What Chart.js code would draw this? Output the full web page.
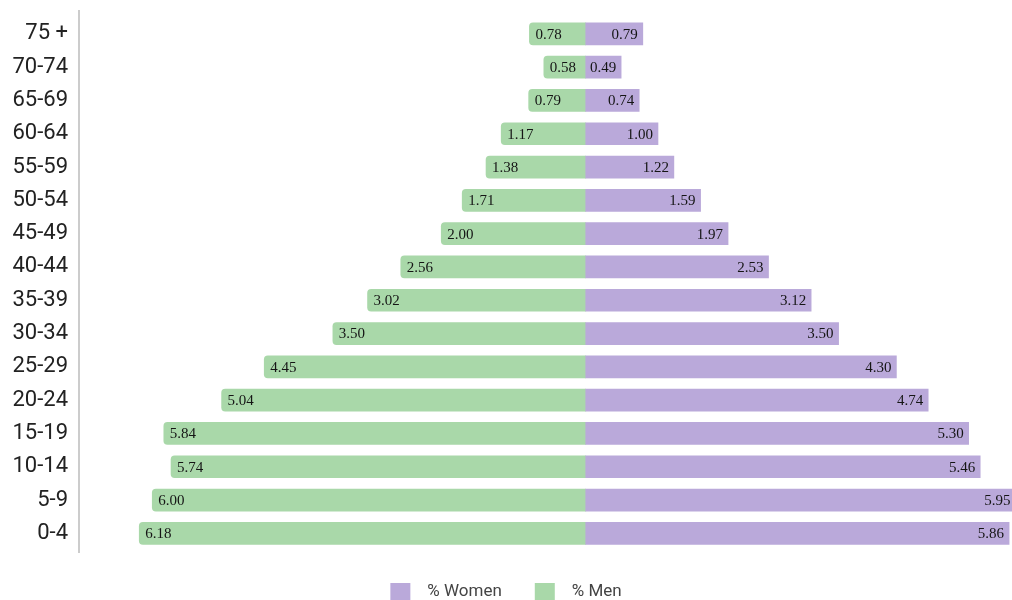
<!DOCTYPE html>
<html>
<head>
<meta charset="utf-8">
<script src="https://cdn.jsdelivr.net/npm/chart.js@4.4.1/dist/chart.umd.min.js"></script>
<style>
  html, body { margin: 0; padding: 0; background: #fff; }
  #wrap { width: 1012px; height: 600px; position: relative; }
</style>
</head>
<body>
<div id="wrap"><canvas id="pyramid"></canvas></div>
<script>
const ageGroups = ['75 +', '70-74', '65-69', '60-64', '55-59', '50-54', '45-49', '40-44',
    '35-39', '30-34', '25-29', '20-24', '15-19', '10-14', '5-9', '0-4'];
const womenPct = [0.79, 0.49, 0.74, 1.00, 1.22, 1.59, 1.97, 2.53, 3.12, 3.50, 4.30, 4.74, 5.30, 5.46, 5.95, 5.86];
const menPct = [0.78, 0.58, 0.79, 1.17, 1.38, 1.71, 2.00, 2.56, 3.02, 3.50, 4.45, 5.04, 5.84, 5.74, 6.00, 6.18];

// bar value labels drawn at the outer end of every bar
const barLabels = {
    id: 'barLabels',
    afterDatasetsDraw(chart) {
        const ctx = chart.ctx;
        ctx.save();
        ctx.font = '15px "Liberation Serif", serif';
        ctx.fillStyle = '#151515';
        ctx.textBaseline = 'middle';
        chart.data.datasets.forEach((ds, i) => {
            chart.getDatasetMeta(i).data.forEach((bar, j) => {
                const v = Math.abs(ds.data[j]).toFixed(2);
                if (ds.data[j] < 0) {
                    ctx.textAlign = 'left';
                    ctx.fillText(v, bar.x + 6, bar.y + 1);
                } else {
                    ctx.textAlign = 'right';
                    ctx.fillText(v, bar.x - 5, bar.y + 1);
                }
            });
        });
        ctx.restore();
    }
};

// light grey axis line left of the bars
const axisLine = {
    id: 'axisLine',
    beforeDatasetsDraw(chart) {
        const ctx = chart.ctx, a = chart.chartArea;
        ctx.save();
        ctx.strokeStyle = '#cccccc';
        ctx.lineWidth = 2;
        ctx.beginPath();
        ctx.moveTo(a.left - 1, 10);
        ctx.lineTo(a.left - 1, 553);
        ctx.stroke();
        ctx.restore();
    }
};

let chart;
window.addEventListener('load', () => {
    chart = new Chart(document.getElementById('pyramid'), {
        type: 'bar',
        data: {
            labels: ageGroups,
            datasets: [
                {
                    label: '% Women',
                    data: womenPct,
                    backgroundColor: '#baa9da',
                    barThickness: 22,
                    borderRadius: 0
                },
                {
                    label: '% Men',
                    data: menPct.map(v => -v),
                    backgroundColor: '#a9d8a9',
                    barThickness: 22,
                    borderRadius: 4
                }
            ]
        },
        options: {
            indexAxis: 'y',
            responsive: true,
            maintainAspectRatio: false,
            animation: false,
            layout: { padding: { top: 9, right: 0, left: 0, bottom: -10 } },
            scales: {
                x: {
                    stacked: true,
                    min: -7,
                    max: 5.9,
                    display: false
                },
                y: {
                    stacked: true,
                    grid: { display: false },
                    border: { display: false },
                    ticks: {
                        padding: 4,
                        color: '#222',
                        font: { family: 'Roboto', size: 22 }
                    },
                    afterFit(scale) { scale.width = 80; }
                }
            },
            plugins: {
                tooltip: { enabled: false },
                legend: {
                    position: 'bottom',
                    labels: {
                        boxWidth: 20,
                        boxHeight: 17,
                        padding: 33,
                        color: '#444',
                        font: { family: 'Roboto', size: 17 },
                        generateLabels(c) {
                            return Chart.defaults.plugins.legend.labels.generateLabels(c).map(item => {
                                item.text = '  ' + item.text;
                                return item;
                            });
                        }
                    }
                }
            }
        },
        plugins: [barLabels, axisLine]
    });
});
</script>
</body>
</html>
